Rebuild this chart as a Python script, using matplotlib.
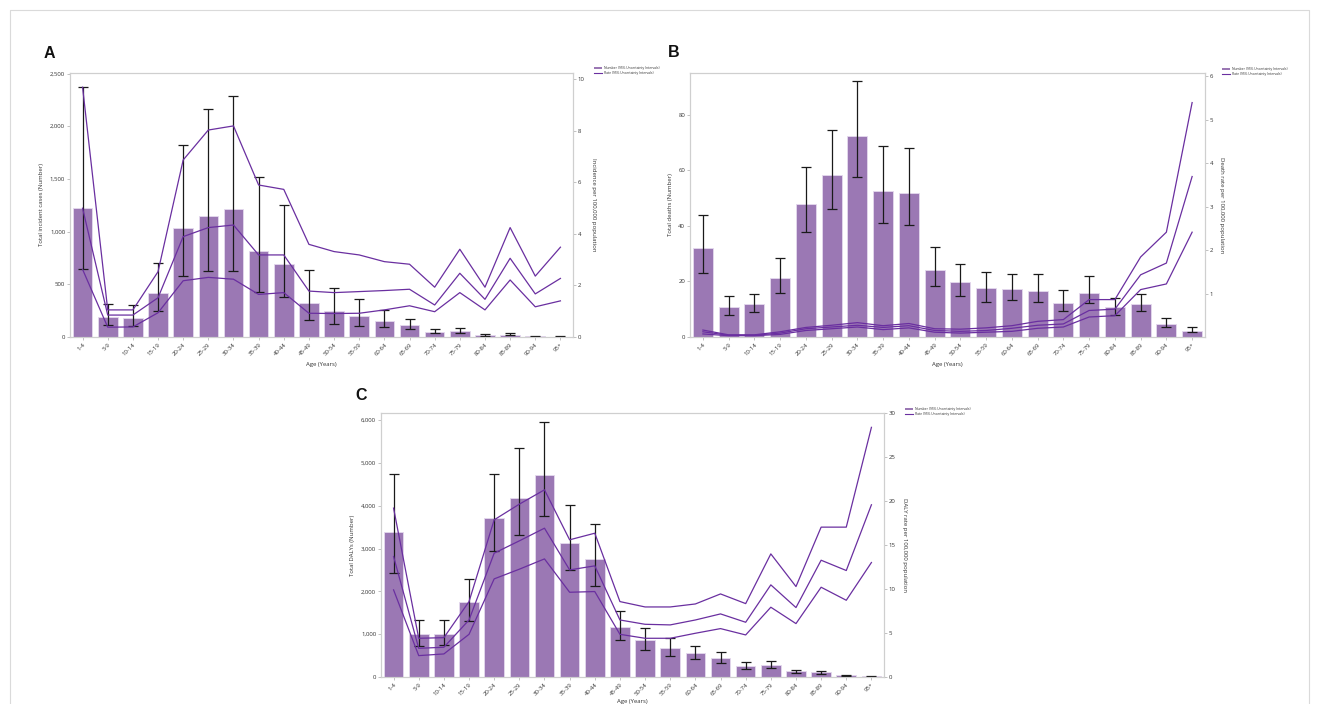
import matplotlib
matplotlib.use("Agg")
import matplotlib.pyplot as plt
from matplotlib.patches import Patch
from matplotlib.lines import Line2D
from matplotlib.ticker import FuncFormatter, FixedLocator

plt.rcParams["font.family"] = ["Open Sans", "DejaVu Sans"]

ages = ["1-4", "5-9", "10-14", "15-19", "20-24", "25-29", "30-34", "35-39",
        "40-44", "45-49", "50-54", "55-59", "60-64", "65-69", "70-74",
        "75-79", "80-84", "85-89", "90-94", "95+"]

# Incidence
inc_num = [1220, 193, 184, 421, 1030, 1144, 1210, 817, 694, 320, 244, 200,
           155, 111, 51, 60, 22, 22, 6, 3]
inc_num_lo = [646, 114, 108, 250, 577, 627, 624, 425, 380, 165, 127, 105,
              95, 73, 38, 38, 13, 16, 3, 1]
inc_num_hi = [2373, 317, 301, 700, 1819, 2167, 2288, 1521, 1248, 640, 466,
              361, 257, 174, 79, 86, 29, 35, 10, 5]
inc_rate = [4.99, 0.85, 0.85, 1.52, 3.89, 4.24, 4.34, 3.18, 3.18, 1.78, 1.72,
            1.76, 1.80, 1.85, 1.24, 2.47, 1.46, 3.05, 1.67, 2.27]
inc_rate_lo = [2.62, 0.38, 0.39, 0.94, 2.18, 2.31, 2.24, 1.65, 1.72, 0.92,
               0.91, 0.92, 1.05, 1.21, 0.98, 1.72, 1.05, 2.21, 1.17, 1.40]
inc_rate_hi = [9.68, 1.05, 1.05, 2.53, 6.86, 8.02, 8.18, 5.89, 5.72, 3.59,
               3.31, 3.18, 2.92, 2.82, 1.93, 3.40, 1.93, 4.24, 2.36, 3.48]

# Deaths
dth_num = [31.9, 10.9, 11.8, 21.2, 47.7, 58.2, 72.3, 52.7, 51.7, 24.1, 19.9,
           17.5, 17.4, 16.7, 12.2, 16.0, 10.7, 11.9, 4.7, 2.3]
dth_num_lo = [23.1, 8.0, 8.9, 15.9, 37.9, 45.9, 57.7, 40.9, 40.2, 18.2, 14.8,
              12.7, 13.2, 12.5, 9.2, 12.1, 8.0, 9.2, 3.5, 1.7]
dth_num_hi = [44.0, 14.6, 15.6, 28.5, 61.0, 74.5, 92.0, 68.7, 68.1, 32.3,
              26.3, 23.4, 22.7, 22.7, 16.9, 22.1, 14.2, 15.5, 6.8, 3.5]
dth_rate = [0.12, 0.04, 0.04, 0.09, 0.19, 0.23, 0.27, 0.22, 0.26, 0.15, 0.13,
            0.15, 0.20, 0.27, 0.30, 0.61, 0.64, 1.43, 1.70, 3.69]
dth_rate_lo = [0.07, 0.03, 0.03, 0.06, 0.15, 0.19, 0.23, 0.17, 0.21, 0.11,
               0.09, 0.11, 0.13, 0.20, 0.23, 0.46, 0.49, 1.09, 1.22, 2.41]
dth_rate_hi = [0.16, 0.05, 0.05, 0.12, 0.22, 0.27, 0.33, 0.26, 0.31, 0.19,
               0.18, 0.21, 0.26, 0.36, 0.40, 0.86, 0.86, 1.84, 2.41, 5.39]

# DALYs
daly_num = [3374, 997, 997, 1745, 3717, 4184, 4714, 3132, 2766, 1169, 873,
            678, 561, 452, 265, 273, 132, 109, 39, 16]
daly_num_lo = [2439, 725, 756, 1309, 2945, 3304, 3756, 2494, 2135, 873, 639,
               491, 421, 335, 195, 203, 101, 78, 23, 8]
daly_num_hi = [4730, 1340, 1325, 2299, 4730, 5338, 5961, 4021, 3577, 1543,
               1153, 912, 733, 584, 358, 374, 171, 148, 55, 23]
daly_rate = [13.69, 3.26, 3.38, 6.48, 14.07, 15.47, 16.91, 12.17, 12.63, 6.48,
             5.99, 5.92, 6.48, 7.17, 6.22, 10.47, 7.89, 13.27, 12.10, 19.57]
daly_rate_lo = [9.90, 2.43, 2.62, 4.85, 11.15, 12.25, 13.42, 9.63, 9.71, 4.85,
                4.40, 4.40, 4.97, 5.50, 4.78, 7.93, 6.07, 10.20, 8.72, 13.01]
daly_rate_hi = [19.19, 4.40, 4.47, 8.57, 17.86, 19.64, 21.27, 15.59, 16.34,
                8.57, 7.96, 7.96, 8.30, 9.44, 8.34, 13.99, 10.28, 17.03, 17.03,
                28.37]

legend_labels = ["Number (95% Uncertainty Intervals)",
                 "Rate (95% Uncertainty Intervals)"]

W, H = 1319, 704
BAR = "#9b78b4"
BAR_EDGE = "#e4d9ee"
LINE = "#6a2fa0"
SPINE = "#cfcfcf"
TXT = "#333333"

fig = plt.figure(figsize=(W / 100, H / 100), dpi=100)


def fx(px):
    return px / W


def fy(py):
    return 1 - py / H


# light page frame
fig.add_artist(Line2D([fx(10), fx(10), fx(1309), fx(1309)],
                      [0, fy(10), fy(10), 0], transform=fig.transFigure,
                      color="#dadada", lw=0.8))


def panel(box, letter, letter_xy, num, lo, hi, rate, rlo, rhi,
          ylab_l, ylab_r, ylim_l, ylim_r, ticks_l, ticks_r, leg_xy,
          thousands=True, xlabelpad=4):
    left, top, right, bottom = box
    ax = fig.add_axes([fx(left), fy(bottom), fx(right) - fx(left),
                       fy(top) - fy(bottom)])
    x = list(range(len(ages)))
    ax.bar(x, num, width=0.78, color=BAR, edgecolor=BAR_EDGE, linewidth=0.6,
           zorder=2)
    yerr = [[n - l for n, l in zip(num, lo)], [h - n for n, h in zip(num, hi)]]
    ax.errorbar(x, num, yerr=yerr, fmt="none", ecolor="#1a1a1a",
                elinewidth=0.9, capsize=3.4, capthick=0.9, zorder=4)
    ax.set_xlim(-0.5, len(ages) - 0.5)
    ax.set_ylim(*ylim_l)
    ax.yaxis.set_major_locator(FixedLocator(ticks_l))
    if thousands:
        ax.yaxis.set_major_formatter(
            FuncFormatter(lambda v, p: f"{int(round(v)):,}"))
    else:
        ax.yaxis.set_major_formatter(
            FuncFormatter(lambda v, p: f"{int(round(v))}"))
    ax.set_xticks(x)
    ax.set_xticklabels(ages, rotation=45, ha="right", rotation_mode="anchor")
    ax.tick_params(axis="both", labelsize=4.3, length=2, width=0.5,
                   color="#aaaaaa", labelcolor=TXT, pad=1.5)
    ax.set_xlabel("Age (Years)", fontsize=4.3, color=TXT, labelpad=xlabelpad)
    ax.set_ylabel(ylab_l, fontsize=4.3, color=TXT, labelpad=4)

    ax2 = ax.twinx()
    ax2.plot(x, rhi, color=LINE, lw=0.9, zorder=3)
    ax2.plot(x, rate, color=LINE, lw=0.9, zorder=3)
    ax2.plot(x, rlo, color=LINE, lw=0.9, zorder=3)
    ax2.set_ylim(*ylim_r)
    ax2.yaxis.set_major_locator(FixedLocator(ticks_r))
    ax2.yaxis.set_major_formatter(
        FuncFormatter(lambda v, p: f"{int(round(v))}"))
    ax2.tick_params(axis="y", labelsize=4.3, length=2, width=0.5,
                    color="#aaaaaa", labelcolor=TXT, pad=1.5)
    ax2.set_ylabel(ylab_r, fontsize=4.3, color=TXT, rotation=270,
                   labelpad=8)
    for a in (ax, ax2):
        for s in a.spines.values():
            s.set_color(SPINE)
            s.set_linewidth(0.8)

    fig.text(fx(letter_xy[0]), fy(letter_xy[1]), letter, fontsize=11.5,
             fontweight="bold", family=["Liberation Sans", "DejaVu Sans"],
             ha="left", va="baseline", color="#111111")

    handles = [Patch(facecolor=BAR, edgecolor="none"),
               Line2D([], [], color=LINE, lw=0.8)]
    fig.legend(handles, legend_labels, loc="upper left",
               bbox_to_anchor=(fx(leg_xy[0]), fy(leg_xy[1])),
               bbox_transform=fig.transFigure, frameon=False, fontsize=2.4,
               handlelength=2.4, handleheight=0.8, handletextpad=0.5,
               labelspacing=0.35, borderpad=0, borderaxespad=0,
               labelcolor=TXT)
    return ax, ax2


panel((70, 73, 573, 337), "A", (44, 58),
      inc_num, inc_num_lo, inc_num_hi, inc_rate, inc_rate_lo, inc_rate_hi,
      "Total incident cases (Number)", "Incidence per 100,000 population",
      (0, 2505), (0, 10.23), [0, 500, 1000, 1500, 2000, 2500],
      [0, 2, 4, 6, 8, 10], (594, 66))

panel((690, 73, 1205, 337), "B", (668, 57),
      dth_num, dth_num_lo, dth_num_hi, dth_rate, dth_rate_lo, dth_rate_hi,
      "Total deaths (Number)", "Death rate per 100,000 population",
      (0, 95), (0, 6.07), [0, 20, 40, 60, 80], [1, 2, 3, 4, 5, 6],
      (1222, 67), thousands=False)

panel((381, 413, 884, 677), "C", (355, 400),
      daly_num, daly_num_lo, daly_num_hi, daly_rate, daly_rate_lo,
      daly_rate_hi,
      "Total DALYs (Number)", "DALY rate per 100,000 population",
      (0, 6164), (0, 30), [0, 1000, 2000, 3000, 4000, 5000, 6000],
      [0, 5, 10, 15, 20, 25, 30], (905, 407), xlabelpad=2)

fig.savefig("out.png", dpi=100)
